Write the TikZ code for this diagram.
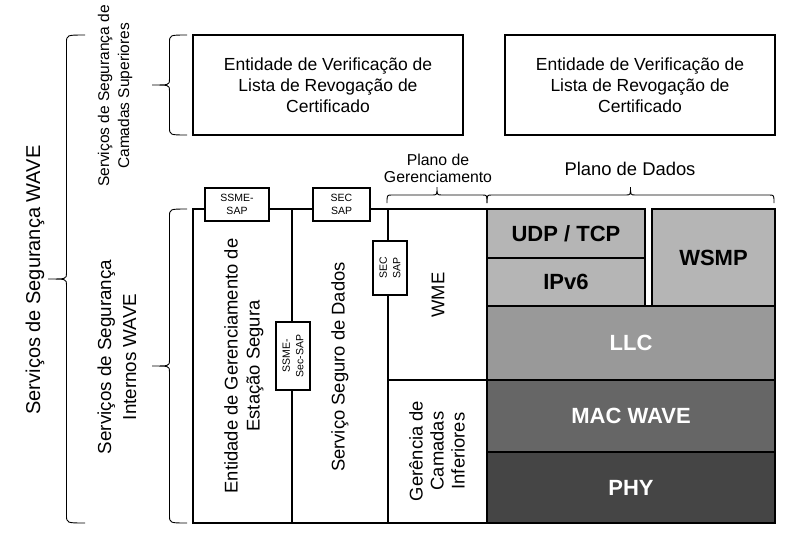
\documentclass[tikz,border=0pt]{standalone}
\usepackage{fontspec}
\setmainfont{Liberation Sans}
\usetikzlibrary{positioning}
\newcommand{\fsz}[2]{\fontsize{#1}{#2}\selectfont}
\definecolor{camadaclara}{gray}{0.71}
\definecolor{camadallc}{gray}{0.60}
\definecolor{camadamac}{gray}{0.40}
\definecolor{camadaphy}{gray}{0.27}
\tikzset{
  linha/.style={line width=1.1pt},
  fina/.style={line width=0.9pt},
  caixa/.style={draw,line width=1.1pt,inner sep=0pt,align=center,fill=white},
  sapbox/.style={caixa,font=\fsz{10.5}{13.5}},
  camada/.style={draw,line width=1.1pt,inner sep=0pt,font=\fsz{22}{26}\bfseries},
  rotulo/.style={align=center,rotate=90,inner sep=0pt},
}
% 左向きの括弧: 端のx, 先端のx, 上のy, 下のy
\newcommand{\chaveesq}[4]{%
  \pgfmathsetmacro{\chx}{(#1+#2)/2}
  \pgfmathsetmacro{\chy}{(#3+#4)/2}
  \draw[fina] (#1,#3) .. controls (\chx,#3) .. (\chx,#3+8) -- (\chx,\chy-6)
    .. controls (\chx,\chy) .. (#2,\chy) .. controls (\chx,\chy) .. (\chx,\chy+6)
    -- (\chx,#4-8) .. controls (\chx,#4) .. (#1,#4);}
% 上向きの括弧: 端のy, 先端のy, 左のx, 右のx
\newcommand{\chavecima}[4]{%
  \pgfmathsetmacro{\chy}{(#1+#2)/2}
  \pgfmathsetmacro{\chx}{(#3+#4)/2}
  \draw[fina] (#3,#1) .. controls (#3,\chy) .. (#3+5,\chy) -- (\chx-5,\chy)
    .. controls (\chx,\chy) .. (\chx,#2) .. controls (\chx,\chy) .. (\chx+5,\chy)
    -- (#4-5,\chy) .. controls (#4,\chy) .. (#4,#1);}
\begin{document}
\begin{tikzpicture}[x=1pt,y=-1pt]
   \useasboundingbox (0,0) rectangle (786,533);
   % 上位層
   \node[caixa,minimum width=270,minimum height=100,font=\fsz{17.5}{21}] (crl1) at (328,85)
      {Entidade de Verificação de\\Lista de Revogação de\\Certificado};
   \node[caixa,minimum width=270,minimum height=100,font=\fsz{17.5}{21}] (crl2) at (640,85)
      {Entidade de Verificação de\\Lista de Revogação de\\Certificado};

   % 管理面
   \draw[linha] (193,209) rectangle (487,523);
   \draw[linha] (292,209) -- (292,523);
   \draw[linha] (388,209) -- (388,523);
   \draw[linha] (388,380) -- (487,380);

   \node[rotulo,font=\fsz{18.4}{22}] (eges) at (244,366) {Entidade de Gerenciamento de\\Estação Segura};
   \node[rotulo,font=\fsz{18.4}{22}] (ssd) at (340,367) {Serviço Seguro de Dados};
   \node[rotulo,font=\fsz{18.4}{22}] (wme) at (438,295) {WME};
   \node[rotulo,font=\fsz{18.4}{21}] (gci) at (437,451) {Gerência de\\Camadas\\Inferiores};

   \node[sapbox,minimum width=64,minimum height=33] (ssmesap) at (237,204.5) {SSME-\\SAP};
   \node[sapbox,minimum width=57,minimum height=33] (secsap) at (341.5,204.5) {SEC\\SAP};
   \node[sapbox,rotate=90,minimum width=54,minimum height=34] (secsapv) at (390,268) {SEC\\SAP};
   \node[sapbox,rotate=90,minimum width=68,minimum height=34] (ssmesec) at (293,356) {SSME-\\Sec-SAP};

   % データ面
   \node[camada,fill=camadaclara,minimum width=158,minimum height=49] (udp) at (566,233.5) {UDP / TCP};
   \node[camada,fill=camadaclara,minimum width=158,minimum height=48] (ipv6) at (566,282) {IPv6};
   \node[camada,fill=camadaclara,minimum width=123,minimum height=97] (wsmp) at (713.5,257.5) {WSMP};
   \node[camada,fill=camadallc,text=white,minimum width=288,minimum height=74] (llc) at (631,343) {LLC};
   \node[camada,fill=camadamac,text=white,minimum width=288,minimum height=72] (mac) at (631,416) {MAC WAVE};
   \node[camada,fill=camadaphy,text=white,minimum width=288,minimum height=71] (phy) at (631,487.5) {PHY};

   % 括弧
   \chavecima{203}{187}{387}{487}
   \chavecima{203}{187}{487}{774}
   \node[align=center,font=\fsz{15.8}{17}] (pger) at (438,168) {Plano de\\Gerenciamento};
   \node[font=\fsz{18.4}{22}] (pdad) at (630,169) {Plano de Dados};

   \chaveesq{187}{152}{35}{135}
   \chaveesq{187}{152}{209}{523}
   \chaveesq{85}{48}{35}{523}
   \node[rotulo,font=\fsz{15.5}{20}] (csup) at (115,96) {Serviços de Segurança de\\Camadas Superiores};
   \node[rotulo,font=\fsz{18.8}{25}] (cint) at (117,357) {Serviços de Segurança\\Internos WAVE};
   \node[rotulo,font=\fsz{20}{24}] (wave) at (35,280) {Serviços de Segurança WAVE};
\end{tikzpicture}
\end{document}
